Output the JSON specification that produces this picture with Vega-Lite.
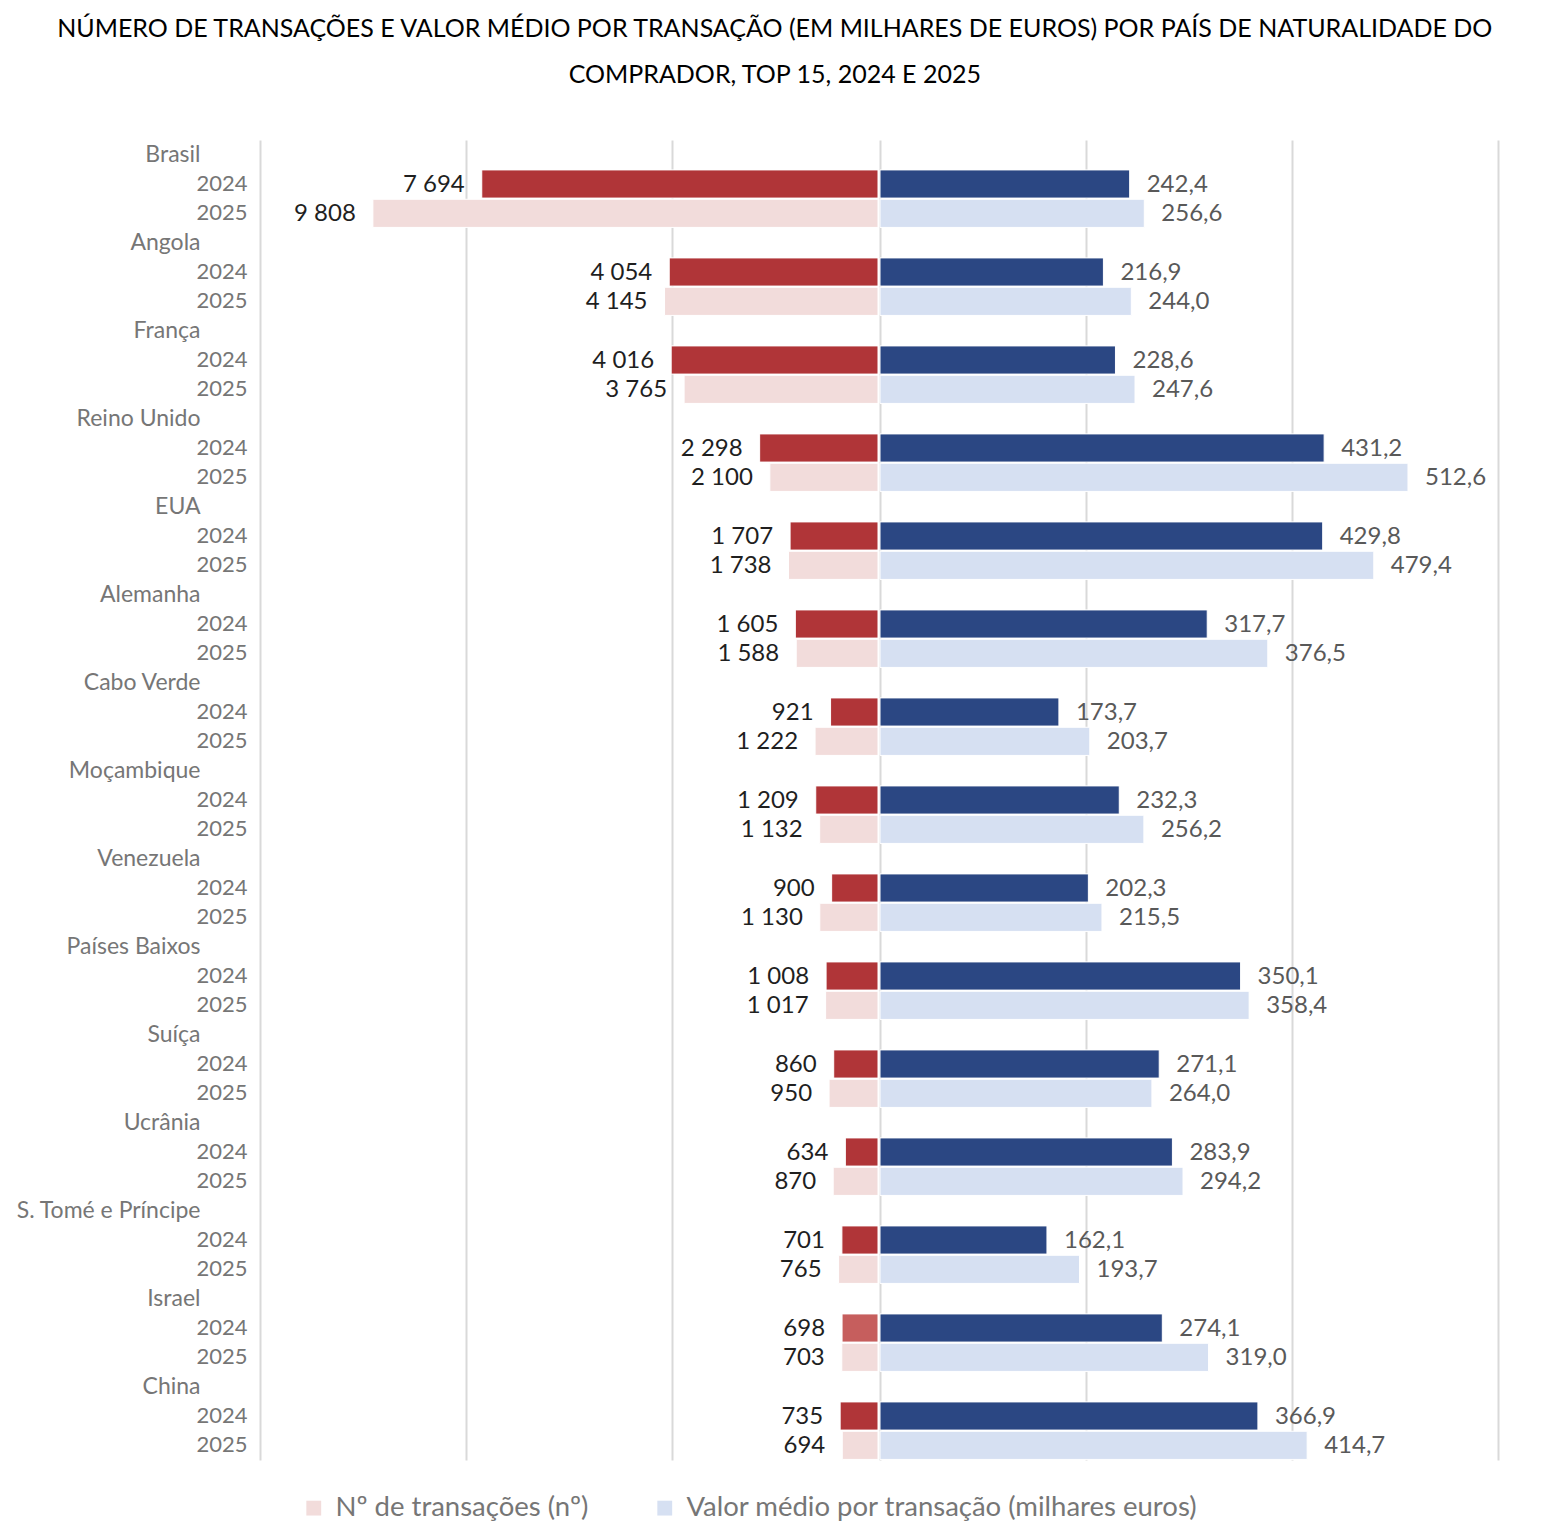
{
 "$schema": "https://vega.github.io/schema/vega-lite/v6.json",
 "config": {
   "locale": {"number": {"decimal": ",", "thousands": " ", "grouping": [3], "currency": ["", " €"]}},
   "font": "Lato",
   "view": {"stroke": null}
 },
 "padding": {"left": 15, "top": 17, "right": 10, "bottom": 10},
 "title": {
   "text": ["NÚMERO DE TRANSAÇÕES E VALOR MÉDIO POR TRANSAÇÃO (EM MILHARES DE EUROS) POR PAÍS DE NATURALIDADE DO", "COMPRADOR, TOP 15, 2024 E 2025"],
   "fontSize": 25, "fontWeight": "normal", "color": "#000000", "lineHeight": 46, "anchor": "middle", "offset": 52, "dx": 18
 },
 "data": {"values": [
  {"pais": "Brasil", "ano": "2024", "linha": "Brasil|2024", "transacoes": 7694, "valor": 242.4},
  {"pais": "Brasil", "ano": "2025", "linha": "Brasil|2025", "transacoes": 9808, "valor": 256.6},
  {"pais": "Angola", "ano": "2024", "linha": "Angola|2024", "transacoes": 4054, "valor": 216.9},
  {"pais": "Angola", "ano": "2025", "linha": "Angola|2025", "transacoes": 4145, "valor": 244.0},
  {"pais": "França", "ano": "2024", "linha": "França|2024", "transacoes": 4016, "valor": 228.6},
  {"pais": "França", "ano": "2025", "linha": "França|2025", "transacoes": 3765, "valor": 247.6},
  {"pais": "Reino Unido", "ano": "2024", "linha": "Reino Unido|2024", "transacoes": 2298, "valor": 431.2},
  {"pais": "Reino Unido", "ano": "2025", "linha": "Reino Unido|2025", "transacoes": 2100, "valor": 512.6},
  {"pais": "EUA", "ano": "2024", "linha": "EUA|2024", "transacoes": 1707, "valor": 429.8},
  {"pais": "EUA", "ano": "2025", "linha": "EUA|2025", "transacoes": 1738, "valor": 479.4},
  {"pais": "Alemanha", "ano": "2024", "linha": "Alemanha|2024", "transacoes": 1605, "valor": 317.7},
  {"pais": "Alemanha", "ano": "2025", "linha": "Alemanha|2025", "transacoes": 1588, "valor": 376.5},
  {"pais": "Cabo Verde", "ano": "2024", "linha": "Cabo Verde|2024", "transacoes": 921, "valor": 173.7},
  {"pais": "Cabo Verde", "ano": "2025", "linha": "Cabo Verde|2025", "transacoes": 1222, "valor": 203.7},
  {"pais": "Moçambique", "ano": "2024", "linha": "Moçambique|2024", "transacoes": 1209, "valor": 232.3},
  {"pais": "Moçambique", "ano": "2025", "linha": "Moçambique|2025", "transacoes": 1132, "valor": 256.2},
  {"pais": "Venezuela", "ano": "2024", "linha": "Venezuela|2024", "transacoes": 900, "valor": 202.3},
  {"pais": "Venezuela", "ano": "2025", "linha": "Venezuela|2025", "transacoes": 1130, "valor": 215.5},
  {"pais": "Países Baixos", "ano": "2024", "linha": "Países Baixos|2024", "transacoes": 1008, "valor": 350.1},
  {"pais": "Países Baixos", "ano": "2025", "linha": "Países Baixos|2025", "transacoes": 1017, "valor": 358.4},
  {"pais": "Suíça", "ano": "2024", "linha": "Suíça|2024", "transacoes": 860, "valor": 271.1},
  {"pais": "Suíça", "ano": "2025", "linha": "Suíça|2025", "transacoes": 950, "valor": 264.0},
  {"pais": "Ucrânia", "ano": "2024", "linha": "Ucrânia|2024", "transacoes": 634, "valor": 283.9},
  {"pais": "Ucrânia", "ano": "2025", "linha": "Ucrânia|2025", "transacoes": 870, "valor": 294.2},
  {"pais": "S. Tomé e Príncipe", "ano": "2024", "linha": "S. Tomé e Príncipe|2024", "transacoes": 701, "valor": 162.1},
  {"pais": "S. Tomé e Príncipe", "ano": "2025", "linha": "S. Tomé e Príncipe|2025", "transacoes": 765, "valor": 193.7},
  {"pais": "Israel", "ano": "2024", "linha": "Israel|2024", "transacoes": 698, "valor": 274.1},
  {"pais": "Israel", "ano": "2025", "linha": "Israel|2025", "transacoes": 703, "valor": 319.0},
  {"pais": "China", "ano": "2024", "linha": "China|2024", "transacoes": 735, "valor": 366.9},
  {"pais": "China", "ano": "2025", "linha": "China|2025", "transacoes": 694, "valor": 414.7}
 ]},
 "spacing": 0,
 "resolve": {"scale": {"x": "independent", "y": "shared", "color": "shared"}},
 "hconcat": [
  {
   "width": 618, "height": 1320,
   "encoding": {
     "y": {"field": "linha", "type": "nominal", "title": null,
       "scale": {"domain": ["Brasil","Brasil|2024","Brasil|2025","Angola","Angola|2024","Angola|2025","França","França|2024","França|2025","Reino Unido","Reino Unido|2024","Reino Unido|2025","EUA","EUA|2024","EUA|2025","Alemanha","Alemanha|2024","Alemanha|2025","Cabo Verde","Cabo Verde|2024","Cabo Verde|2025","Moçambique","Moçambique|2024","Moçambique|2025","Venezuela","Venezuela|2024","Venezuela|2025","Países Baixos","Países Baixos|2024","Países Baixos|2025","Suíça","Suíça|2024","Suíça|2025","Ucrânia","Ucrânia|2024","Ucrânia|2025","S. Tomé e Príncipe","S. Tomé e Príncipe|2024","S. Tomé e Príncipe|2025","Israel","Israel|2024","Israel|2025","China","China|2024","China|2025"], "paddingInner": 0.04, "paddingOuter": 0.02},
       "axis": {"domain": false, "ticks": false, "labelColor": "#767676", "labelLimit": 400,
         "labelExpr": "indexof(datum.value, '|') >= 0 ? split(datum.value, '|')[1] : datum.value",
         "labelFontSize": {"condition": {"test": "indexof(datum.value, '|') < 0", "value": 23}, "value": 22},
         "labelPadding": {"condition": {"test": "indexof(datum.value, '|') < 0", "value": 60}, "value": 13}}},
     "x": {"field": "transacoes", "type": "quantitative", "title": null,
       "scale": {"domain": [0, 12000], "reverse": true, "nice": false},
       "axis": {"values": [4000, 8000, 12000], "grid": true, "labels": false, "ticks": false, "domain": false, "gridColor": "#d9d9d9", "gridWidth": 2}}
   },
   "layer": [
    {"mark": {"type": "bar", "stroke": "white", "strokeWidth": 1},
     "encoding": {
       "color": {"datum": "Nº de transações (nº)",
         "condition": [{"test": "datum.ano == '2024' && datum.pais == 'Israel'", "value": "#c65e5d"}, {"test": "datum.ano == '2024'", "value": "#b03538"}],
         "scale": {"domain": ["Nº de transações (nº)", "Valor médio por transação (milhares euros)"], "range": ["#f2dcdb", "#d6e0f2"]},
         "legend": {"orient": "bottom", "direction": "horizontal", "title": null, "symbolType": "square", "symbolSize": 220, "symbolStrokeWidth": 0, "labelFontSize": 27.5, "labelColor": "#767676", "columnPadding": 62, "labelOffset": 8, "offset": -6, "padding": 40, "labelLimit": 800}}
     }},
    {"mark": {"type": "text", "align": "right", "baseline": "middle", "dx": -17, "dy": 1, "fontSize": 24, "color": "#1f1f1f"},
     "encoding": {"text": {"field": "transacoes", "type": "quantitative", "format": ",d"}}}
   ]
  },
  {
   "width": 618, "height": 1320,
   "encoding": {
     "y": {"field": "linha", "type": "nominal", "axis": null},
     "x": {"field": "valor", "type": "quantitative", "title": null,
       "scale": {"domain": [0, 600], "nice": false},
       "axis": {"values": [0, 200, 400, 600], "grid": true, "labels": false, "ticks": false, "domain": false, "gridColor": "#d9d9d9", "gridWidth": 2}}
   },
   "layer": [
    {"mark": {"type": "bar", "stroke": "white", "strokeWidth": 1},
     "encoding": {
       "color": {"datum": "Valor médio por transação (milhares euros)",
         "condition": [{"test": "datum.ano == '2024'", "value": "#2b4783"}]}
     }},
    {"mark": {"type": "text", "align": "left", "baseline": "middle", "dx": 17, "dy": 1, "fontSize": 24, "color": "#595959"},
     "encoding": {"text": {"field": "valor", "type": "quantitative", "format": ".1f"}}}
   ]
  }
 ]
}
